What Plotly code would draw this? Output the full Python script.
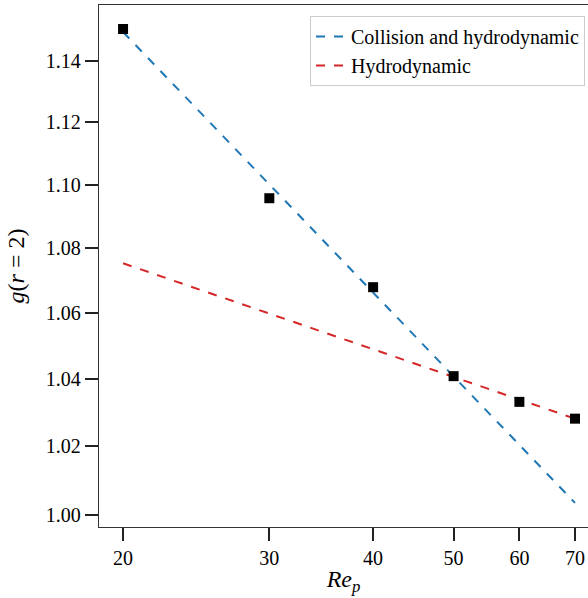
import plotly.graph_objects as go
import math

re_p = [20, 30, 40, 50, 60, 70]
g_r2 = [1.1506, 1.0957, 1.0679, 1.0408, 1.0331, 1.0281]

fit_x = [20, 70]
fit_collision = [1.1496, 1.0034]
fit_hydro = [1.0753, 1.0281]

x_ticks = [20, 30, 40, 50, 60, 70]
y_ticks = [1.00, 1.02, 1.04, 1.06, 1.08, 1.10, 1.12, 1.14]

FONT = "Liberation Serif, Times New Roman, serif"

fig = go.Figure()
fig.add_trace(go.Scatter(x=fit_x, y=fit_collision, mode="lines",
                         line=dict(color="#1f77b4", width=2, dash="dash"),
                         name="Collision and hydrodynamic"))
fig.add_trace(go.Scatter(x=fit_x, y=fit_hydro, mode="lines",
                         line=dict(color="#d62728", width=2, dash="dash"),
                         name="Hydrodynamic"))
fig.add_trace(go.Scatter(x=re_p, y=g_r2, mode="markers",
                         marker=dict(symbol="square", color="black", size=10),
                         showlegend=False))

fig.update_layout(
    width=588, height=598,
    margin=dict(l=99, r=0, t=5, b=71),
    paper_bgcolor="white", plot_bgcolor="white",
    font=dict(family=FONT, size=20, color="black"),
    legend=dict(x=0.9939, y=0.979, xanchor="right", yanchor="top",
                bordercolor="#cccccc", borderwidth=1, bgcolor="white",
                font=dict(family=FONT, size=20), tracegroupgap=0),
    xaxis=dict(type="log",
               range=[math.log10(18.71), math.log10(72.57)],
               tickvals=x_ticks, ticktext=[str(v) for v in x_ticks],
               ticks="outside", ticklen=13, tickwidth=1.5, tickcolor="#222",
               showline=True, linecolor="#333", linewidth=1.3, mirror=True,
               showgrid=False, zeroline=False,
               tickfont=dict(family=FONT, size=20),
               title=dict(text="<i>Re</i><sub><i>p</i></sub>", font=dict(family=FONT, size=24),
                          standoff=2)),
    yaxis=dict(type="log",
               range=[math.log10(0.99642), math.log10(1.1586)],
               tickvals=y_ticks, ticktext=[f"{v:.2f}" for v in y_ticks],
               ticks="outside", ticklen=13, tickwidth=1.5, tickcolor="#222",
               showline=True, linecolor="#333", linewidth=1.3, mirror=False,
               showgrid=False, zeroline=False,
               tickfont=dict(family=FONT, size=20),
               title=dict(text="<i>g</i>(<i>r</i> = 2)", font=dict(family=FONT, size=24),
                          standoff=14)),
)

fig.write_html("out.html")
